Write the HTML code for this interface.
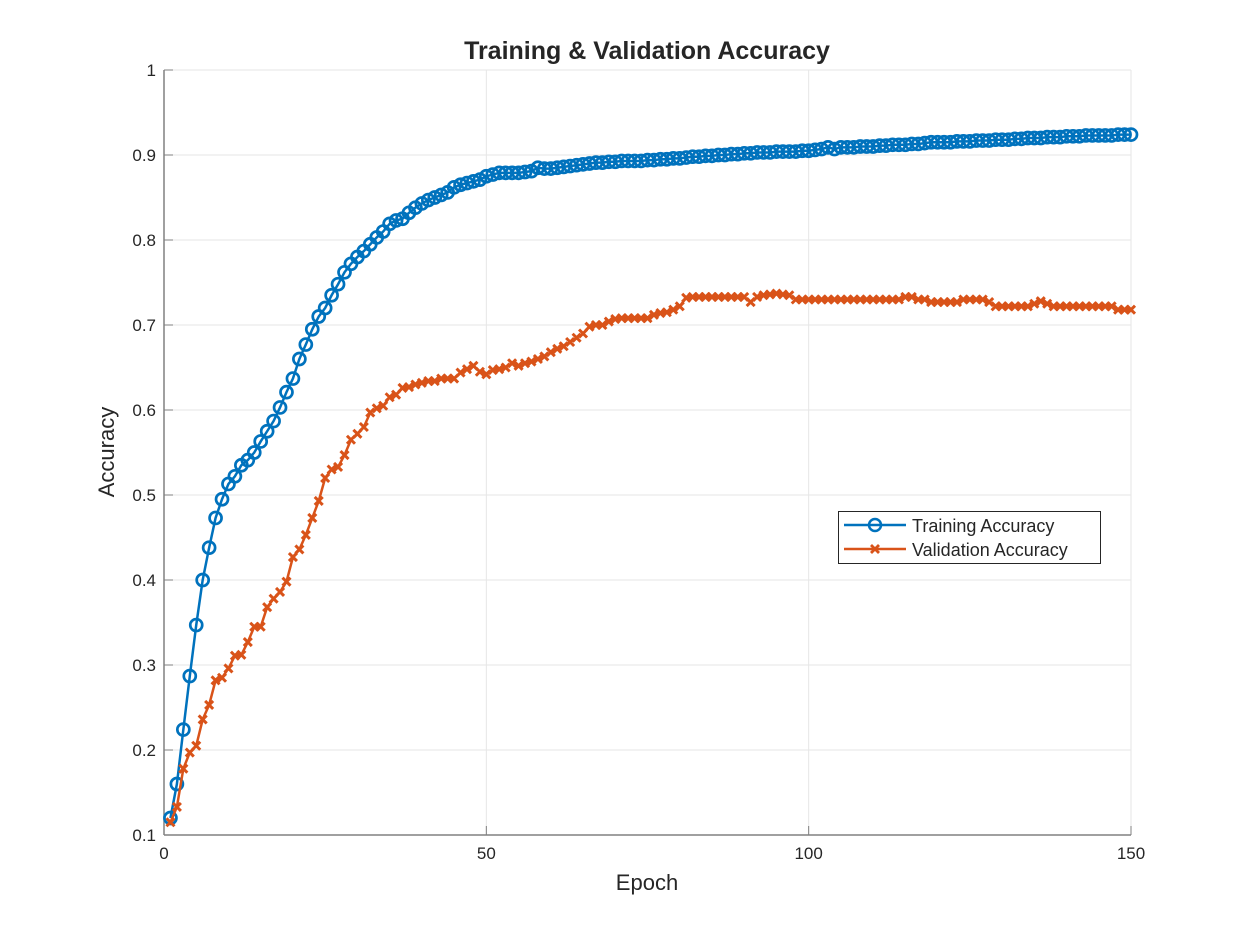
<!DOCTYPE html>
<html><head><meta charset="utf-8"><style>
html,body{margin:0;padding:0;background:#fff;}
svg{display:block;font-family:"Liberation Sans",Arial,sans-serif;}
</style></head><body>
<svg id="chart" width="1250" height="938" viewBox="0 0 1250 938"></svg>
<script>
const trainAcc=[0.12,0.16,0.224,0.287,0.347,0.40,0.438,0.473,0.495,0.513,0.522,0.535,0.541,0.55,0.563,0.575,0.587,0.603,0.621,0.637,
0.66,0.677,0.695,0.71,0.72,0.735,0.748,0.762,0.772,0.78,0.787,0.795,0.803,0.81,0.819,0.823,0.825,0.832,0.838,0.843,
0.847,0.85,0.853,0.856,0.862,0.865,0.867,0.869,0.871,0.875,0.877,0.879,0.879,0.879,0.879,0.88,0.881,0.885,0.884,0.884,
0.885,0.886,0.887,0.888,0.889,0.890,0.891,0.891,0.892,0.892,0.893,0.893,0.893,0.893,0.894,0.894,0.895,0.895,0.896,0.896,
0.897,0.898,0.898,0.899,0.899,0.900,0.900,0.901,0.901,0.902,0.902,0.903,0.903,0.903,0.904,0.904,0.904,0.904,0.905,0.905,
0.906,0.907,0.909,0.907,0.909,0.909,0.909,0.910,0.910,0.910,0.911,0.911,0.912,0.912,0.912,0.913,0.913,0.914,0.915,0.915,
0.915,0.915,0.916,0.916,0.916,0.917,0.917,0.917,0.918,0.918,0.918,0.919,0.919,0.920,0.920,0.920,0.921,0.921,0.921,0.922,
0.922,0.922,0.923,0.923,0.923,0.923,0.923,0.924,0.924,0.924];
const valAcc=[0.115,0.133,0.178,0.197,0.205,0.236,0.253,0.282,0.285,0.296,0.311,0.312,0.327,0.345,0.345,0.368,0.378,0.386,0.398,0.427,
0.436,0.453,0.473,0.493,0.52,0.53,0.533,0.547,0.565,0.572,0.58,0.597,0.602,0.605,0.615,0.618,0.626,0.627,0.63,0.632,
0.634,0.634,0.637,0.637,0.637,0.644,0.648,0.652,0.645,0.642,0.647,0.648,0.65,0.655,0.652,0.655,0.657,0.66,0.663,0.668,
0.672,0.675,0.68,0.685,0.69,0.698,0.70,0.70,0.704,0.707,0.708,0.708,0.708,0.708,0.708,0.712,0.714,0.715,0.718,0.722,
0.732,0.733,0.733,0.733,0.733,0.733,0.733,0.733,0.733,0.733,0.727,0.733,0.735,0.736,0.737,0.736,0.735,0.73,0.73,0.73,
0.73,0.73,0.73,0.73,0.73,0.73,0.73,0.73,0.73,0.73,0.73,0.73,0.73,0.73,0.733,0.733,0.73,0.73,0.727,0.727,
0.727,0.727,0.727,0.73,0.73,0.73,0.73,0.727,0.722,0.722,0.722,0.722,0.722,0.722,0.725,0.728,0.725,0.722,0.722,0.722,
0.722,0.722,0.722,0.722,0.722,0.722,0.722,0.718,0.718,0.718];
const xTicks=[0,50,100,150];
const yTicks=[0.1,0.2,0.3,0.4,0.5,0.6,0.7,0.8,0.9,1];
const yTickLabels=["0.1","0.2","0.3","0.4","0.5","0.6","0.7","0.8","0.9","1"];

const L=164,R=1131,T=70,B=835;
const sx=v=>L+(v-0)/(150-0)*(R-L);
const sy=v=>B-(v-0.1)/(1-0.1)*(B-T);
const svg=document.getElementById('chart');
const NS='http://www.w3.org/2000/svg';
function mk(tag,attrs,parent){const e=document.createElementNS(NS,tag);for(const k in attrs)e.setAttribute(k,attrs[k]);(parent||svg).appendChild(e);return e;}

const grid=mk('g',{});


xTicks.forEach(t=>{mk('line',{x1:sx(t),x2:sx(t),y1:T,y2:B,stroke:'#e6e6e6','stroke-width':1},grid);});
yTicks.forEach(t=>{mk('line',{x1:L,x2:R,y1:sy(t),y2:sy(t),stroke:'#e6e6e6','stroke-width':1},grid);});

const ax=mk('g',{});


mk('line',{x1:L,x2:R,y1:B,y2:B,stroke:'#808080','stroke-width':1.5},ax);
mk('line',{x1:L,x2:L,y1:T,y2:B,stroke:'#808080','stroke-width':1.5},ax);
xTicks.forEach(t=>{
  mk('line',{x1:sx(t),x2:sx(t),y1:B,y2:B-9,stroke:'#808080'},ax);
  const tx=mk('text',{x:sx(t),y:B+24,'text-anchor':'middle','font-size':17,fill:'#262626'},ax);
  tx.textContent=t;
  
  
});
yTicks.forEach((t,i)=>{
  mk('line',{x1:L,x2:L+9,y1:sy(t),y2:sy(t),stroke:'#808080'},ax);
  const tx=mk('text',{x:L-8,y:sy(t)+6,'text-anchor':'end','font-size':17,fill:'#262626'},ax);
  tx.textContent=yTickLabels[i];
  
  
});

function series(data,color,marker,name){
  const g=mk('g',{});
  
  
  const pts=data.map((v,i)=>sx(i+1)+','+sy(v)).join(' ');
  mk('polyline',{points:pts,fill:'none',stroke:color,'stroke-width':2.5},g);
  data.forEach((v,i)=>{
    const x=sx(i+1),y=sy(v);
    if(marker==='o'){const c=mk('circle',{cx:x,cy:y,r:6,fill:'none',stroke:color,'stroke-width':2.7},g);
      
      }
    else{const p=mk('path',{d:`M${x-4},${y-4}L${x+4},${y+4}M${x-4},${y+4}L${x+4},${y-4}`,stroke:color,'stroke-width':3},g);
      
      }
  });
}
series(trainAcc,'#0072BD','o','training-accuracy-series');
series(valAcc,'#D95319','x','validation-accuracy-series');

const title=mk('text',{x:647,y:59,'text-anchor':'middle','font-size':25,'font-weight':'bold',fill:'#262626'});
title.textContent='Training & Validation Accuracy';


const xl=mk('text',{x:647,y:890,'text-anchor':'middle','font-size':22,fill:'#262626'});
xl.textContent='Epoch';


const yl=mk('text',{x:114,y:452,'text-anchor':'middle','font-size':22,fill:'#262626',transform:'rotate(-90 114 452)'});
yl.textContent='Accuracy';



const lg=mk('g',{});


mk('rect',{x:838.5,y:511.5,width:262,height:52,fill:'#fff',stroke:'#262626','stroke-width':1},lg);
mk('line',{x1:844,x2:906,y1:525,y2:525,stroke:'#0072BD','stroke-width':2.5},lg);
mk('circle',{cx:875,cy:525,r:6,fill:'none',stroke:'#0072BD','stroke-width':2.5},lg);
mk('line',{x1:844,x2:906,y1:549,y2:549,stroke:'#D95319','stroke-width':2.5},lg);
mk('path',{d:'M871,545L879,553M871,553L879,545',stroke:'#D95319','stroke-width':2.8},lg);
const t1=mk('text',{x:912,y:532,'font-size':18,fill:'#262626'},lg);
t1.textContent='Training Accuracy';


const t2=mk('text',{x:912,y:556,'font-size':18,fill:'#262626'},lg);
t2.textContent='Validation Accuracy';


</script>
</body></html>
